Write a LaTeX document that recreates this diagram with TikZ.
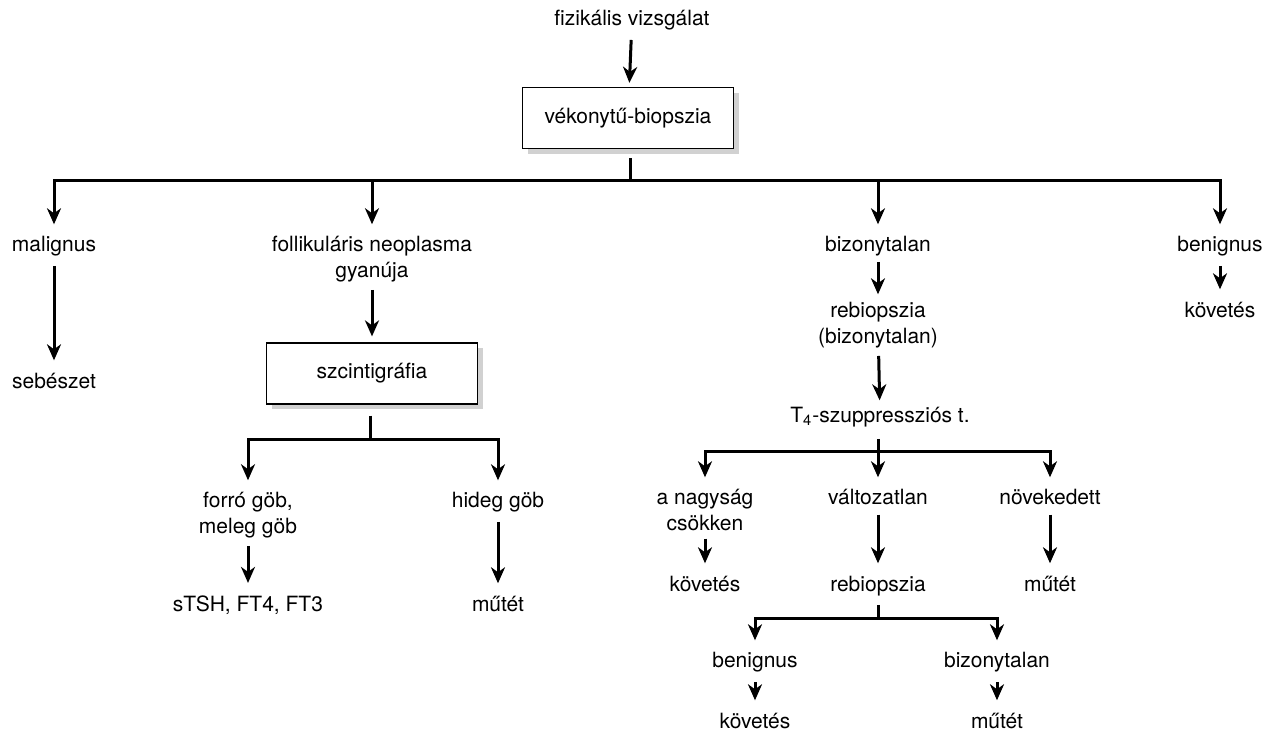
\documentclass[tikz,border=0pt]{standalone}
\usepackage{fontspec}
\setmainfont{TeX Gyre Heros}
\usetikzlibrary{arrows.meta,shadows}

\begin{document}
\begin{tikzpicture}[x=0.5pt, y=-0.5pt, >={Stealth[length=8pt,width=7pt,inset=2.5pt]},
    every node/.style={font=\fontsize{10.5}{13}\selectfont, inner sep=0pt},
    lbl/.style={anchor=base},
    mlbl/.style={anchor=base, align=center},
    box/.style={draw, line width=0.6pt, fill=white, minimum width=105.5pt, minimum height=30.5pt,
        drop shadow={shadow xshift=2.5pt, shadow yshift=-2.5pt, fill=black!18, opacity=1}},
    arr/.style={->, line width=1.5pt, shorten <=5pt, shorten >=6pt},
    brarr/.style={->, line width=1.5pt, shorten >=5.5pt},
    stem/.style={line width=1.5pt, shorten <=4.5pt}]
    \useasboundingbox (0,0) rectangle (1282,735);

    % top
    \node[lbl] (fiz) at (632,25) {fizikális vizsgálat};
    \node[box] (vek) at (628,118) {vékonytű-biopszia};
    \coordinate (j1) at (630,180);

    % first level (two-line nodes sit on their last line)
    \node[lbl] (mal) at (54,251) {malignus};
    \node[mlbl] (fol) at (372,277) {follikuláris neoplasma\\gyanúja};
    \node[lbl] (biz) at (878,251) {bizonytalan};
    \node[lbl] (ben) at (1220,251) {benignus};

    % left branches
    \node[lbl] (seb) at (54,388) {sebészet};
    \node[box] (szc) at (372,373.5) {szcintigráfia};
    \coordinate (j2) at (370,439);
    \node[mlbl] (forro) at (248,533) {forró göb,\\meleg göb};
    \node[lbl] (hid) at (498,507) {hideg göb};
    \node[lbl] (tsh) at (248,611) {sTSH, FT4, FT3};
    \node[lbl] (mut1) at (498,611) {műtét};

    % right branches
    \node[lbl] (kov1) at (1220,317) {követés};
    \node[mlbl] (reb1) at (878,343) {rebiopszia\\(bizonytalan)};
    \node[lbl] (t4) at (880,422) {T\textsubscript{4}-szuppressziós t.};
    \coordinate (j3) at (878,451);
    \node[mlbl] (nagy) at (705,530) {a nagyság\\csökken};
    \node[lbl] (valt) at (878,504) {változatlan};
    \node[lbl] (nov) at (1050,504) {növekedett};
    \node[lbl] (kov2) at (705,591) {követés};
    \node[lbl] (reb2) at (878,591) {rebiopszia};
    \node[lbl] (mut2) at (1050,591) {műtét};
    \coordinate (j4) at (878,618);
    \node[lbl] (ben2) at (755,667) {benignus};
    \node[lbl] (biz2) at (997,667) {bizonytalan};
    \node[lbl] (kov3) at (755,728) {követés};
    \node[lbl] (mut3) at (997,728) {műtét};

    % connectors
    \draw[arr, shorten >=2pt] (fiz) -- (vek);
    \draw[stem] (vek.south -| j1) -- (j1);
    \draw[brarr] (j1) -| (mal);
    \draw[brarr] (j1) -| (ben);
    \draw[brarr] (j1 -| fol) -- (fol);
    \draw[brarr] (j1 -| biz) -- (biz);

    \draw[arr] (mal) -- (seb);
    \draw[arr, shorten <=4pt, shorten >=3pt] (fol) -- (szc);
    \draw[stem, shorten <=5.5pt] (szc.south -| j2) -- (j2);
    \draw[brarr] (j2) -| (forro);
    \draw[brarr] (j2) -| (hid);
    \draw[arr, shorten <=4pt] (forro) -- (tsh);
    \draw[arr] (hid) -- (mut1);

    \draw[arr] (ben) -- (kov1);
    \draw[arr, shorten <=3pt, shorten >=3.5pt] (biz) -- (reb1);
    \draw[arr, shorten <=4pt, shorten >=3pt] (reb1) -- (t4);
    \draw[stem, shorten <=6pt] (t4.south -| j3) -- (j3);
    \draw[brarr] (j3) -| (nagy);
    \draw[brarr] (j3) -| (nov);
    \draw[brarr] (j3) -- (valt);
    \draw[arr, shorten <=4pt] (nagy) -- (kov2);
    \draw[arr] (valt) -- (reb2);
    \draw[arr] (nov) -- (mut2);
    \draw[stem] (reb2.south -| j4) -- (j4);
    \draw[brarr] (j4) -| (ben2);
    \draw[brarr] (j4) -| (biz2);
    \draw[arr] (ben2) -- (kov3);
    \draw[arr] (biz2) -- (mut3);
\end{tikzpicture}
\end{document}
